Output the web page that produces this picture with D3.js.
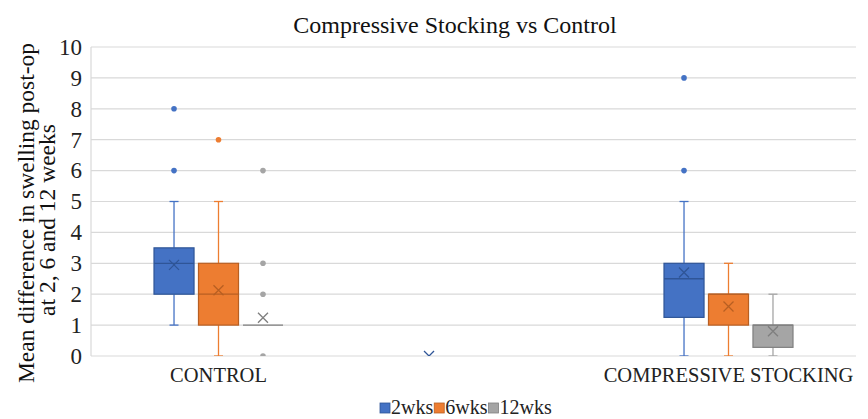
<!DOCTYPE html>
<html>
<head>
<meta charset="utf-8">
<script src="https://cdn.jsdelivr.net/npm/d3@7"></script>
<style>
  html, body { margin: 0; padding: 0; background: #fff; }
  svg { display: block; font-family: "Liberation Serif", "Times New Roman", serif; }
  svg text { font-family: "Liberation Serif", "Times New Roman", serif; }
</style>
</head>
<body>
<svg id="chart" width="868" height="419"></svg>
<script>
// Groups along the x axis (the middle slot is unlabeled)
const categories = ["CONTROL", "", "COMPRESSIVE STOCKING"];
const seriesNames = ["2wks", "6wks", "12wks"];
const seriesColors = ["#4472C4", "#ED7D31", "#A5A5A5"];
const seriesDark = ["#2F5597", "#B85F22", "#7F7F7F"];
const yTicks = [0, 1, 2, 3, 4, 5, 6, 7, 8, 9, 10];

// Five-number summaries per series, one entry per category (null = no box)
const lowWhisker = [[1, null, 0], [0, null, 0], [1, null, 0]];
const q1Values   = [[2, null, 1.25], [1, null, 1], [1, null, 0.28]];
const medians    = [[3, null, 2.5], [2, null, 2], [1, null, 1]];
const q3Values   = [[3.5, null, 3], [3, null, 2], [1, null, 1]];
const highWhisker= [[5, null, 5], [5, null, 3], [1, null, 2]];
const means      = [[2.95, 0, 2.7], [2.13, null, 1.6], [1.24, null, 0.8]];
const outliers   = [[[6, 8], [], [6, 9]], [[7], [], []], [[0, 2, 3, 6], [], []]];

const svg = d3.select("#chart");
const margin = { left: 91, right: 868 - 856, top: 47, bottom: 419 - 356 };
const W = 868, H = 419;

const x = d3.scaleBand().domain(d3.range(categories.length))
  .range([margin.left, W - margin.right]);
const y = d3.scaleLinear().domain([0, 10]).range([H - margin.bottom, margin.top]);
const sub = d3.scaleBand().domain(d3.range(seriesNames.length))
  .range([-64.5, 64.5]).paddingInner(0.1);

// Gridlines
svg.append("g").selectAll("line").data(yTicks).join("line")
  .attr("x1", margin.left).attr("x2", W - margin.right)
  .attr("y1", d => y(d)).attr("y2", d => y(d))
  .attr("stroke", "#D9D9D9").attr("stroke-width", 1.2);
svg.append("line")
  .attr("x1", margin.left).attr("x2", margin.left)
  .attr("y1", y(10)).attr("y2", y(0))
  .attr("stroke", "#D9D9D9").attr("stroke-width", 1.2);

// Y axis tick labels
const yAxis = d3.axisLeft(y).tickValues(yTicks).tickSize(0).tickPadding(9);
const gy = svg.append("g").attr("transform", `translate(${margin.left},0)`).call(yAxis);
gy.attr("font-family", null);
gy.select(".domain").remove();
gy.selectAll("text").attr("font-size", 23).attr("fill", "#222");

// X axis category labels
const xAxis = d3.axisBottom(x).tickFormat(i => categories[i]).tickSize(0).tickPadding(11);
const gx = svg.append("g").attr("transform", `translate(0,${y(0)})`).call(xAxis);
gx.attr("font-family", null);
gx.select(".domain").remove();
gx.selectAll("text").attr("font-size", 20.5).attr("fill", "#222");

// Clip the plotting area so marks at zero are cut at the axis
svg.append("clipPath").attr("id", "plotClip").append("rect")
  .attr("x", margin.left).attr("y", 0)
  .attr("width", W - margin.left - margin.right).attr("height", y(0));

const plot = svg.append("g").attr("clip-path", "url(#plotClip)");
const capHalf = 4.5;

seriesNames.forEach((name, s) => {
  const g = plot.append("g");
  categories.forEach((c, i) => {
    const cx = x(i) + x.bandwidth() / 2 + sub(s) + sub.bandwidth() / 2;
    const bx = x(i) + x.bandwidth() / 2 + sub(s);
    const bw = sub.bandwidth();
    const col = seriesColors[s], dark = seriesDark[s];
    if (q1Values[s][i] !== null) {
      const lo = lowWhisker[s][i], hi = highWhisker[s][i];
      const q1 = q1Values[s][i], q3 = q3Values[s][i];
      // whiskers
      if (lo < q1) {
        g.append("line").attr("x1", cx).attr("x2", cx).attr("y1", y(q1)).attr("y2", y(lo))
          .attr("stroke", col).attr("stroke-width", 1.3);
        g.append("line").attr("x1", cx - capHalf).attr("x2", cx + capHalf).attr("y1", y(lo)).attr("y2", y(lo))
          .attr("stroke", col).attr("stroke-width", 1.3);
      }
      if (hi > q3) {
        g.append("line").attr("x1", cx).attr("x2", cx).attr("y1", y(q3)).attr("y2", y(hi))
          .attr("stroke", col).attr("stroke-width", 1.3);
        g.append("line").attr("x1", cx - capHalf).attr("x2", cx + capHalf).attr("y1", y(hi)).attr("y2", y(hi))
          .attr("stroke", col).attr("stroke-width", 1.3);
      }
      // box
      g.append("rect").attr("x", bx).attr("width", bw)
        .attr("y", y(q3)).attr("height", Math.max(0, y(q1) - y(q3)))
        .attr("fill", col).attr("stroke", dark).attr("stroke-width", 1.2);
      // median
      g.append("line").attr("x1", bx).attr("x2", bx + bw)
        .attr("y1", y(medians[s][i])).attr("y2", y(medians[s][i]))
        .attr("stroke", dark).attr("stroke-width", 1.3);
    }
    // mean marker
    if (means[s][i] !== null) {
      const my = y(means[s][i]), m = 5;
      g.append("path")
        .attr("d", `M${cx - m},${my - m}L${cx + m},${my + m}M${cx - m},${my + m}L${cx + m},${my - m}`)
        .attr("stroke", dark).attr("stroke-width", 1.3).attr("fill", "none");
    }
    // outliers
    g.selectAll(null).data(outliers[s][i]).join("circle")
      .attr("cx", cx).attr("cy", d => y(d)).attr("r", 2.8)
      .attr("fill", col);
  });
});

// Title
svg.append("text").attr("x", 455).attr("y", 33).attr("text-anchor", "middle")
  .attr("font-size", 24).attr("fill", "#111").text("Compressive Stocking vs Control");

// Y axis title (two lines)
const yt = svg.append("text").attr("transform", "translate(0,213) rotate(-90)")
  .attr("text-anchor", "middle").attr("font-size", 23.5).attr("fill", "#111");
yt.append("tspan").attr("x", 0).attr("y", 34).text("Mean difference in swelling post-op");
yt.append("tspan").attr("x", -7).attr("y", 55).text("at 2, 6 and 12 weeks");

// Legend
const legend = svg.append("g");
let lx = 380;
seriesNames.forEach((name, s) => {
  legend.append("rect").attr("x", lx).attr("y", 403).attr("width", 10).attr("height", 10)
    .attr("fill", seriesColors[s]).attr("stroke", seriesDark[s]).attr("stroke-width", 0.8);
  const t = legend.append("text").attr("x", lx + 11).attr("y", 414)
    .attr("font-size", 20).attr("fill", "#222").text(name);
  lx += 11 + t.node().getComputedTextLength() + 1;
});
</script>
</body>
</html>
